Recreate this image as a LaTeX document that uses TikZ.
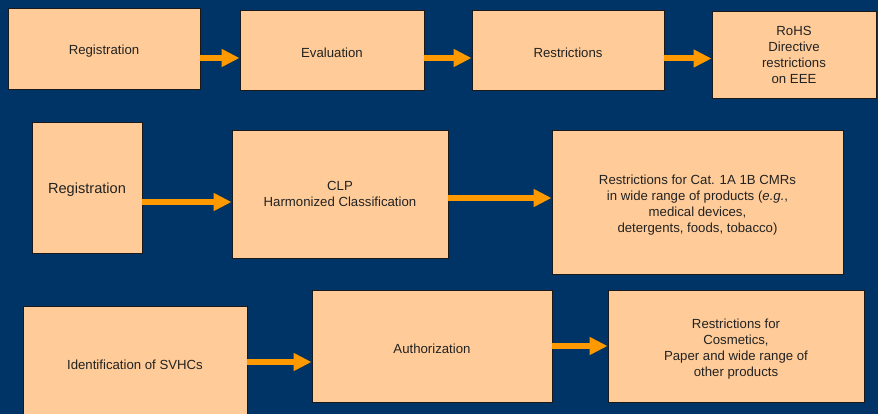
\documentclass[tikz,border=0pt]{standalone}
\usepackage{fontspec}
\setmainfont{Liberation Sans}
\usetikzlibrary{arrows.meta}
\definecolor{bgnavy}{HTML}{003366}
\definecolor{boxfill}{HTML}{FFCC99}
\definecolor{arroworange}{HTML}{FF9900}
\definecolor{textdark}{HTML}{222222}
\definecolor{boxline}{HTML}{1A1A1A}
\newcommand{\lowlines}[1]{\raisebox{-3pt}[\height][\depth]{\begin{tabular}{@{}c@{}}#1\end{tabular}}}
\tikzset{
  box/.style={draw=boxline, line width=0.9pt, fill=boxfill, rectangle, inner sep=2pt,
    align=center, text=textdark, font=\fontsize{13.2}{16}\selectfont,
    execute at begin node={\rule{0pt}{15.5pt}}},
  flowarrow/.style={draw=arroworange, line width=6pt,
    -{Triangle[length=18pt,width=17pt,fill=arroworange]}},
}
\begin{document}
\begin{tikzpicture}[x=1pt,y=1pt]
\fill[bgnavy] (0,0) rectangle (878,-414);
\useasboundingbox (0,0) rectangle (878,-414);
% Row 1
\node[box, minimum width=192pt, minimum height=81pt] (b1) at (104,-48.5) {Registration};
\node[box, minimum width=184pt, minimum height=80pt] (b2) at (332,-50) {Evaluation};
\node[box, minimum width=192pt, minimum height=80pt] (b3) at (568,-50) {Restrictions};
\node[box, minimum width=164pt, minimum height=87pt] (b4) at (794,-54.5) {RoHS\\Directive\\restrictions\\on EEE};
% Row 2
\node[box, minimum width=110pt, minimum height=131pt, font=\fontsize{14.6}{17}\selectfont] (c1) at (87,-187.5) {Registration};
\node[box, minimum width=216pt, minimum height=128pt] (c2) at (340,-194) {CLP\\Harmonized Classification};
\node[box, minimum width=291pt, minimum height=144pt] (c3) at (697.5,-202) {\lowlines{Restrictions for Cat. 1A 1B CMRs\\in wide range of products (\textit{e.g.},\\medical devices,\\detergents, foods, tobacco)}};
% Row 3
\node[box, minimum width=224pt, minimum height=112pt] (d1) at (135,-362) {Identification of SVHCs};
\node[box, minimum width=240pt, minimum height=112pt] (d2) at (432,-346) {Authorization};
\node[box, minimum width=256pt, minimum height=112pt] (d3) at (736,-346) {\lowlines{Restrictions for\\Cosmetics,\\Paper and wide range of\\other products}};
% Arrows
\draw[flowarrow] (b1.east |- 0,-58) -- (b2.west |- 0,-58);
\draw[flowarrow] (b2.east |- 0,-58) -- (b3.west |- 0,-58);
\draw[flowarrow] (b3.east |- 0,-58.5) -- (b4.west |- 0,-58.5);
\draw[flowarrow] (c1.east |- 0,-202) -- (c2.west |- 0,-202);
\draw[flowarrow] (c2.east |- 0,-198) -- (c3.west |- 0,-198);
\draw[flowarrow] (d1.east |- 0,-362) -- (d2.west |- 0,-362);
\draw[flowarrow] (d2.east |- 0,-346) -- (d3.west |- 0,-346);
\end{tikzpicture}
\end{document}
